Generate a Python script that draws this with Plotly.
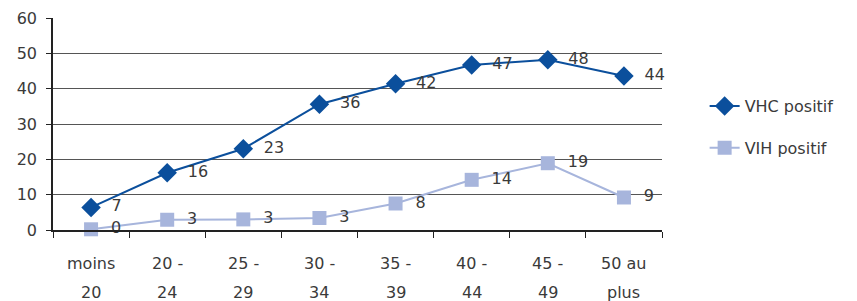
import plotly.graph_objects as go

categories = ["moins 20", "20 - 24", "25 - 29", "30 - 34", "35 - 39", "40 - 44", "45 - 49", "50 au plus"]
cat_line1 = ["moins", "20 -", "25 -", "30 -", "35 -", "40 -", "45 -", "50 au"]
cat_line2 = ["20", "24", "29", "34", "39", "44", "49", "plus"]
vhc = [6.4, 16.2, 23.0, 35.6, 41.4, 46.7, 48.2, 43.6]
vih = [0.2, 2.9, 3.0, 3.4, 7.5, 14.2, 18.9, 9.2]
vhc_labels = ["7", "16", "23", "36", "42", "47", "48", "44"]
vih_labels = ["0", "3", "3", "3", "8", "14", "19", "9"]
yticks = [0, 10, 20, 30, 40, 50, 60]

FONT = "DejaVu Sans"
TXT = "#3a3a3a"
PAD = "\u00a0\u00a0"

fig = go.Figure()
fig.add_trace(go.Scatter(
    x=categories, y=vhc, name="VHC positif", mode="lines+markers+text",
    line=dict(color="#0B4F9C", width=2),
    marker=dict(symbol="diamond", size=15, color="#0B4F9C"),
    text=[PAD + t for t in vhc_labels], textposition="middle right",
    textfont=dict(family=FONT, size=16, color=TXT),
    legendgroup="a", cliponaxis=False,
))
fig.add_trace(go.Scatter(
    x=categories, y=vih, name="VIH positif", mode="lines+markers+text",
    line=dict(color="#A7B5DC", width=2),
    marker=dict(symbol="square", size=14, color="#A7B5DC"),
    text=[PAD + t for t in vih_labels], textposition="middle right",
    textfont=dict(family=FONT, size=16, color=TXT),
    legendgroup="b", cliponaxis=False,
))

for c, l1, l2 in zip(categories, cat_line1, cat_line2):
    fig.add_annotation(x=c, xref="x", y=0, yref="paper", yanchor="middle", text=l1,
                       showarrow=False, yshift=-33, font=dict(family=FONT, size=16, color=TXT))
    fig.add_annotation(x=c, xref="x", y=0, yref="paper", yanchor="middle", text=l2,
                       showarrow=False, yshift=-62, font=dict(family=FONT, size=16, color=TXT))

fig.update_layout(
    width=849, height=293,
    margin=dict(l=45, r=195, t=10, b=71),
    paper_bgcolor="white", plot_bgcolor="white",
    font=dict(family=FONT, size=16, color=TXT),
    showlegend=True,
    legend=dict(x=1.07, y=0.665, xanchor="left", yanchor="top",
                font=dict(family=FONT, size=16, color=TXT),
                traceorder="grouped", tracegroupgap=18,
                bgcolor="rgba(0,0,0,0)"),
    xaxis=dict(type="category", showticklabels=False, ticks="outside", ticklen=6,
               tickcolor="#222", tickson="boundaries", showgrid=False,
               showline=True, linecolor="#222", linewidth=1.5,
               range=[-0.5, 7.5], zeroline=False, automargin=False),
    yaxis=dict(range=[0, 60], tickvals=yticks, ticks="outside", ticklen=5,
               tickcolor="#222", showgrid=True, gridcolor="#555", gridwidth=1,
               showline=True, linecolor="#222", linewidth=1.5, zeroline=False,
               ticklabelstandoff=6, automargin=False,
               tickfont=dict(family=FONT, size=16, color=TXT)),
)

fig.write_html("out.html")
